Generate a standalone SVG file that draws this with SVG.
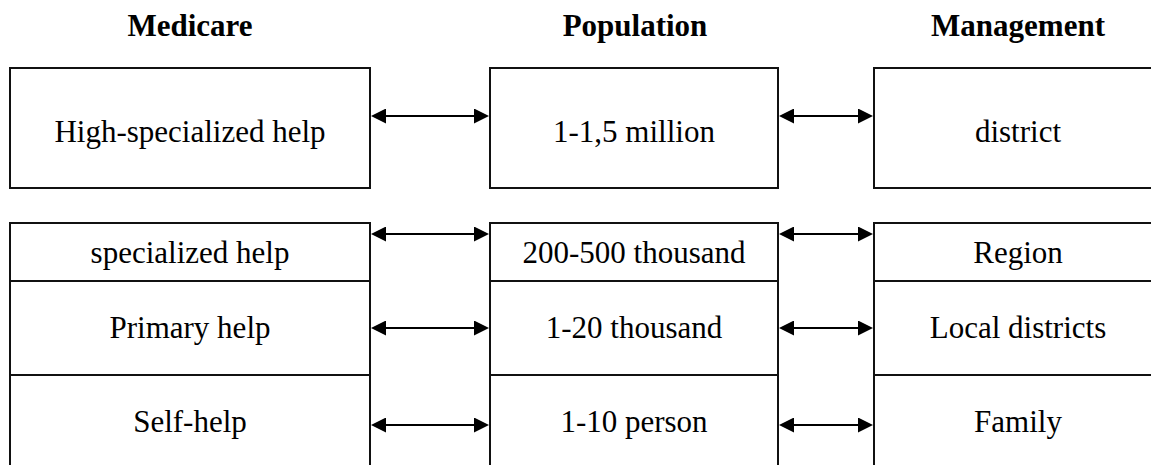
<svg xmlns="http://www.w3.org/2000/svg" width="1151" height="465" viewBox="0 0 1151 465">
  <defs>
    <style>
      .box { fill: #ffffff; stroke: #111111; stroke-width: 2; }
      text { font-family: 'Liberation Serif', 'DejaVu Serif', serif; font-size: 31px; fill: #000000; text-anchor: middle; }
      .head { font-weight: bold; }
      .link { stroke: #000000; stroke-width: 2; fill: none; marker-start: url(#tip); marker-end: url(#tip); }
    </style>
    <!-- filled arrowhead; the tip sits 10px past the line end -->
    <marker id="tip" viewBox="0 0 15 15" refX="5" refY="7.5" markerWidth="15" markerHeight="15" markerUnits="userSpaceOnUse" orient="auto-start-reverse">
      <path d="M0,0 L15,7.5 L0,15 Z" fill="#000000"/>
    </marker>
  </defs>

  <rect width="1151" height="465" fill="#ffffff"/>

  <!-- column headings -->
  <g id="headings" font-family="Liberation Serif, DejaVu Serif, serif">
    <text class="head" x="190" y="36">Medicare</text>
    <text class="head" x="635" y="36">Population</text>
    <text class="head" x="1018" y="36">Management</text>
  </g>

  <!-- upper row -->
  <g id="high-specialized-help">
    <rect class="box" x="10" y="68" width="360" height="120"/>
    <text x="190" y="142">High-specialized help</text>
  </g>
  <g id="million">
    <rect class="box" x="490" y="68" width="288" height="120"/>
    <text x="634" y="142">1-1,5 million</text>
  </g>
  <g id="district">
    <rect class="box" x="874" y="68" width="300" height="120"/>
    <text x="1018" y="142">district</text>
  </g>

  <!-- lower stacked rows: Medicare column -->
  <g id="specialized-help">
    <rect class="box" x="10" y="223" width="360" height="58"/>
    <text x="190" y="263">specialized help</text>
  </g>
  <g id="primary-help">
    <rect class="box" x="10" y="281" width="360" height="94"/>
    <text x="190" y="338">Primary help</text>
  </g>
  <g id="self-help">
    <rect class="box" x="10" y="375" width="360" height="110"/>
    <text x="190" y="432">Self-help</text>
  </g>

  <!-- Population column -->
  <g id="thousand-200-500">
    <rect class="box" x="490" y="223" width="288" height="58"/>
    <text x="634" y="263">200-500 thousand</text>
  </g>
  <g id="thousand-1-20">
    <rect class="box" x="490" y="281" width="288" height="94"/>
    <text x="634" y="338">1-20 thousand</text>
  </g>
  <g id="person-1-10">
    <rect class="box" x="490" y="375" width="288" height="110"/>
    <text x="634" y="432">1-10 person</text>
  </g>

  <!-- Management column -->
  <g id="region">
    <rect class="box" x="874" y="223" width="300" height="58"/>
    <text x="1018" y="263">Region</text>
  </g>
  <g id="local-districts">
    <rect class="box" x="874" y="281" width="300" height="94"/>
    <text x="1018" y="338">Local districts</text>
  </g>
  <g id="family">
    <rect class="box" x="874" y="375" width="300" height="110"/>
    <text x="1018" y="432">Family</text>
  </g>

  <!-- two-way connectors between columns -->
  <g id="connectors">
    <line class="link" x1="381" y1="116" x2="479" y2="116"/>
    <line class="link" x1="789" y1="116" x2="863" y2="116"/>
    <line class="link" x1="381" y1="234" x2="479" y2="234"/>
    <line class="link" x1="789" y1="234" x2="863" y2="234"/>
    <line class="link" x1="381" y1="328" x2="479" y2="328"/>
    <line class="link" x1="789" y1="328" x2="863" y2="328"/>
    <line class="link" x1="381" y1="425" x2="479" y2="425"/>
    <line class="link" x1="789" y1="425" x2="863" y2="425"/>
  </g>
</svg>
